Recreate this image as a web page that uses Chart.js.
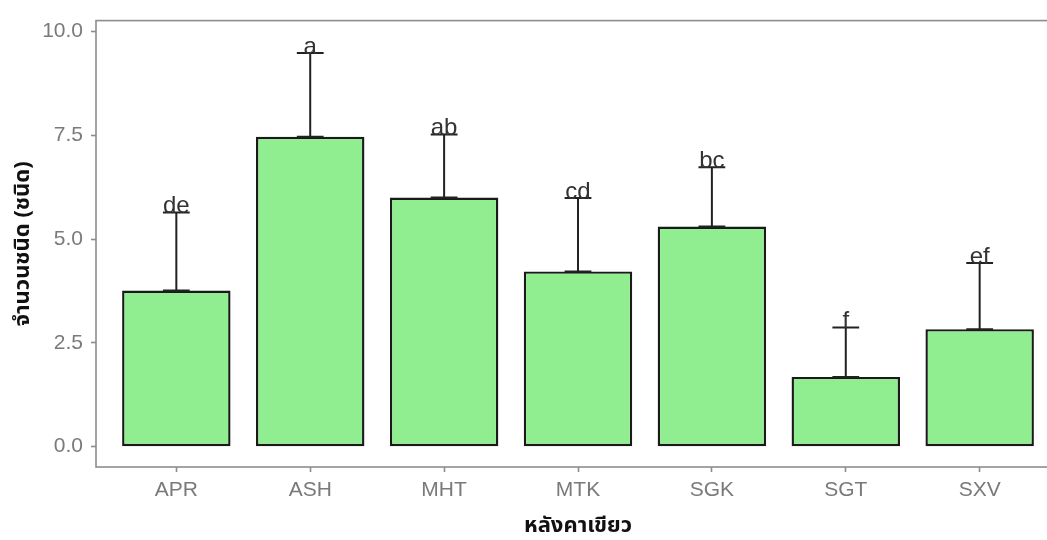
<!DOCTYPE html>
<html>
<head>
<meta charset="utf-8">
<title>จำนวนชนิดตามหลังคาเขียว</title>
<script src="https://cdn.jsdelivr.net/npm/chart.js@4.4.1/dist/chart.umd.min.js"></script>
<style>
  html, body { margin: 0; padding: 0; background: #ffffff; overflow: hidden; }
  #wrap { position: absolute; left: 0; top: 0; width: 1066px; height: 540px; }
</style>
</head>
<body>
<div id="wrap"><canvas id="chart"></canvas></div>
<script>
// Green roof sites and mean species counts
const categories = ['APR', 'ASH', 'MHT', 'MTK', 'SGK', 'SGT', 'SXV'];
const meanCount  = [3.76, 7.46, 6.00, 4.22, 5.30, 1.68, 2.83];
// Mean + one standard deviation (top of each error bar)
const upperCount = [5.64, 9.48, 7.52, 5.99, 6.73, 2.87, 4.42];
// Significance group letters
const groupLetters = ['de', 'a', 'ab', 'cd', 'bc', 'f', 'ef'];
// Y axis ticks
const yTicks = [0, 2.5, 5, 7.5, 10];

const axisGrey = '#8c8c8c';
const tickTextGrey = '#7a7a7a';

// Error bars, caps and group letters on top of the bars
const errorBarPlugin = {
  id: 'errorBars',
  afterDatasetsDraw(chart) {
    const { ctx, scales: { x, y } } = chart;
    const capHalf = (x.getPixelForValue(1) - x.getPixelForValue(0)) * 0.1;
    ctx.save();
    ctx.strokeStyle = '#222222';
    ctx.lineWidth = 2;
    categories.forEach((c, i) => {
      const px = x.getPixelForValue(i);
      const yLow = y.getPixelForValue(meanCount[i]);
      const yHigh = y.getPixelForValue(upperCount[i]);
      ctx.beginPath();
      ctx.moveTo(px, yLow);
      ctx.lineTo(px, yHigh);
      ctx.moveTo(px - capHalf, yHigh);
      ctx.lineTo(px + capHalf, yHigh);
      ctx.moveTo(px - capHalf, yLow);
      ctx.lineTo(px + capHalf, yLow);
      ctx.stroke();
      ctx.fillStyle = '#333333';
      ctx.font = '24px "Liberation Sans", Arial, sans-serif';
      ctx.textAlign = 'center';
      ctx.textBaseline = 'alphabetic';
      ctx.fillText(groupLetters[i], px, yHigh + 1);
    });
    ctx.restore();
  }
};

// Grey panel outline
const panelBorderPlugin = {
  id: 'panelBorder',
  afterDraw(chart) {
    const { ctx, chartArea: a } = chart;
    ctx.save();
    ctx.strokeStyle = axisGrey;
    ctx.lineWidth = 1.6;
    ctx.strokeRect(a.left, a.top, a.right - a.left, a.bottom - a.top);
    ctx.restore();
  }
};

new Chart(document.getElementById('chart'), {
  type: 'bar',
  data: {
    datasets: [{
      data: categories.map((c, i) => ({ x: i, y: meanCount[i] })),
      backgroundColor: '#90EE90',
      borderColor: '#1a1a1a',
      borderWidth: 2.4,
      borderSkipped: false,
      categoryPercentage: 0.81,
      barPercentage: 1.0
    }]
  },
  options: {
    responsive: true,
    maintainAspectRatio: false,
    animation: false,
    layout: { padding: { left: 0, right: 6, top: 18, bottom: 0 } },
    plugins: {
      legend: { display: false },
      tooltip: { enabled: false }
    },
    scales: {
      x: {
        type: 'linear',
        offset: false,
        min: -0.6,
        max: 6.6,
        afterBuildTicks(scale) {
          scale.ticks = categories.map((c, i) => ({ value: i }));
        },
        afterFit(scale) { scale.height = 73; },
        grid: {
          display: true,
          offset: false,
          drawOnChartArea: false,
          drawTicks: true,
          tickLength: 5,
          tickColor: axisGrey,
          tickWidth: 1.6
        },
        border: { display: false },
        ticks: {
          autoSkip: false,
          maxRotation: 0,
          padding: 6,
          color: tickTextGrey,
          font: { family: '"Liberation Sans", Arial, sans-serif', size: 21 },
          callback: (v) => categories[v]
        },
        title: {
          display: true,
          text: 'หลังคาเขียว',
          color: '#111111',
          padding: { top: 0, bottom: 1 },
          font: { family: '"Noto Sans Thai", "Noto Sans", "DejaVu Sans", sans-serif', size: 22, weight: 'bold', lineHeight: 1.0 }
        }
      },
      y: {
        min: -0.49,
        max: 10.26,
        afterBuildTicks(scale) {
          scale.ticks = yTicks.map(v => ({ value: v }));
        },
        afterFit(scale) { scale.width = 96; },
        grid: {
          display: true,
          drawOnChartArea: false,
          drawTicks: true,
          tickLength: 5,
          tickColor: axisGrey,
          tickWidth: 1.6
        },
        border: { display: false },
        ticks: {
          padding: 8,
          color: tickTextGrey,
          font: { family: '"Liberation Sans", Arial, sans-serif', size: 21 },
          callback: (v) => Number(v).toFixed(1)
        },
        title: {
          display: true,
          text: 'จำนวนชนิด (ชนิด)',
          color: '#111111',
          padding: { top: 11, bottom: 0 },
          font: { family: '"Noto Sans Thai", "Noto Sans", "DejaVu Sans", sans-serif', size: 22, weight: 'bold', lineHeight: 1.2 }
        }
      }
    }
  },
  plugins: [errorBarPlugin, panelBorderPlugin]
});
</script>
</body>
</html>
